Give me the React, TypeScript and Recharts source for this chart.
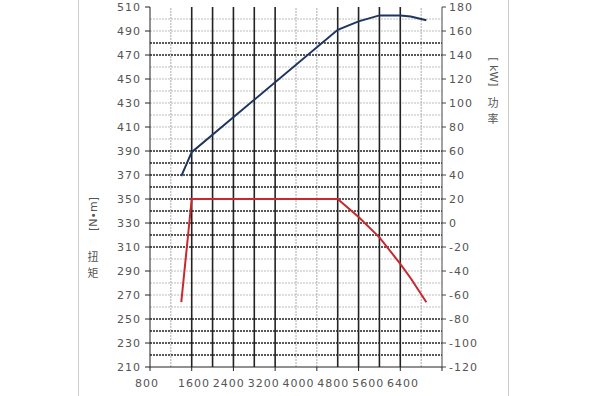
import React from 'react';
import {
  ComposedChart,
  Line,
  XAxis,
  YAxis,
  ReferenceLine,
} from 'recharts';

// engine speed [rpm]
const rpm = [1400, 1600, 4400, 4800, 5200, 5600, 5800, 6100];
// torque [N·m]
const torque = [264, 350, 350, 335, 318, 296, 284, 264];
// power [kW]
const power = [39, 59, 161, 168, 173, 173, 172, 169];

const rpmTicks = [800, 1600, 2400, 3200, 4000, 4800, 5600, 6400];
const torqueTicks = [210, 230, 250, 270, 290, 310, 330, 350, 370, 390, 410, 430, 450, 470, 490, 510];
const powerTicks = [-120, -100, -80, -60, -40, -20, 0, 20, 40, 60, 80, 100, 120, 140, 160, 180];

// grid rows / columns, dark and light
const darkRows = [480, 470, 390, 380, 370, 360, 350, 340, 330, 320, 310, 250, 240, 230, 220];
const lightRows = [500, 490, 460, 450, 440, 430, 420, 410, 400, 300, 290, 280, 270, 260];
const darkCols = [1600, 2000, 2400, 2800, 3200, 4400, 4800, 5200, 5600];
const lightCols = [1200, 3600, 4000, 6000];

const data = rpm.map((r, i) => ({ rpm: r, torque: torque[i], power: power[i] }));

const tickStyle = { fill: '#555', fontSize: 11, fontFamily: 'DejaVu Sans', letterSpacing: 1 };

const RpmTick = (props: any) => {
  const { x, y, payload, index } = props;
  const lx = index === 0 ? x - 3 : 194 + (x - 191.7) * 0.835;
  return (
    <text x={lx} y={y} dy="0.71em" textAnchor="middle" {...tickStyle}>
      {payload.value}
    </text>
  );
};

export default function App() {
  return (
    <div style={{ position: 'absolute', left: 0, top: 0, width: 608, height: 396, background: '#fff', overflow: 'hidden' }}>
      <div style={{ position: 'absolute', left: 78, top: 0, width: 1, height: 396, background: '#ccc' }} />
      <div style={{ position: 'absolute', left: 508, top: 0, width: 1, height: 396, background: '#ccc' }} />
      <svg width={608} height={396} style={{ position: 'absolute', left: 0, top: 0 }}>
        <g fill="#555" fontSize={11} fontFamily="DejaVu Sans">
          <text x={93} y={214} transform="rotate(-90 93 214)" textAnchor="middle" dominantBaseline="central">[N•m]</text>
          <text x={93} y={256} textAnchor="middle" dominantBaseline="central" fontFamily="Noto Sans CJK SC">扭</text>
          <text x={93} y={272} textAnchor="middle" dominantBaseline="central" fontFamily="Noto Sans CJK SC">矩</text>
          <text x={493} y={72} transform="rotate(90 493 72)" textAnchor="middle" dominantBaseline="central">[ kW]</text>
          <text x={493} y={102} textAnchor="middle" dominantBaseline="central" fontFamily="Noto Sans CJK SC">功</text>
          <text x={493} y={118} textAnchor="middle" dominantBaseline="central" fontFamily="Noto Sans CJK SC">率</text>
        </g>
      </svg>
      <div style={{ position: 'absolute', left: 0, top: 0 }}>
        <ComposedChart width={608} height={396} data={data} margin={{ top: 7, right: 0, bottom: 0, left: 0 }}>
          <XAxis
            dataKey="rpm"
            type="number"
            domain={[800, 6400]}
            ticks={rpmTicks}
            height={29}
            stroke="#222"
            tickSize={4}
            tickMargin={8}
            tick={<RpmTick />}
          />
          <YAxis
            yAxisId="t"
            orientation="left"
            width={150}
            domain={[210, 510]}
            ticks={torqueTicks}
            interval={0}
            stroke="#222"
            tickSize={5}
            tickMargin={4}
            tick={tickStyle}
          />
          <YAxis
            yAxisId="p"
            orientation="right"
            width={166}
            domain={[-120, 180]}
            ticks={powerTicks}
            interval={0}
            stroke="#444"
            tickSize={4}
            tickMargin={3}
            tick={tickStyle}
          />
          {lightRows.map((v) => (
            <ReferenceLine key={'lr' + v} yAxisId="t" y={v} stroke="#bdbdbd" strokeDasharray="2 1" />
          ))}
          {lightCols.map((v) => (
            <ReferenceLine key={'lc' + v} yAxisId="t" x={v} stroke="#aaa" strokeDasharray="2 1" />
          ))}
          {darkRows.map((v) => (
            <ReferenceLine key={'dr' + v} yAxisId="t" y={v} stroke="#222" strokeWidth={1.5} strokeDasharray="2 1" />
          ))}
          {darkCols.map((v) => (
            <ReferenceLine key={'dc' + v} yAxisId="t" x={v} stroke="#222" strokeWidth={1.6} />
          ))}
          <Line
            yAxisId="p"
            dataKey="power"
            stroke="#1f3560"
            strokeWidth={2}
            dot={false}
            isAnimationActive={false}
          />
          <Line
            yAxisId="t"
            dataKey="torque"
            stroke="#c8282e"
            strokeWidth={2}
            dot={false}
            isAnimationActive={false}
          />
        </ComposedChart>
      </div>
    </div>
  );
}
